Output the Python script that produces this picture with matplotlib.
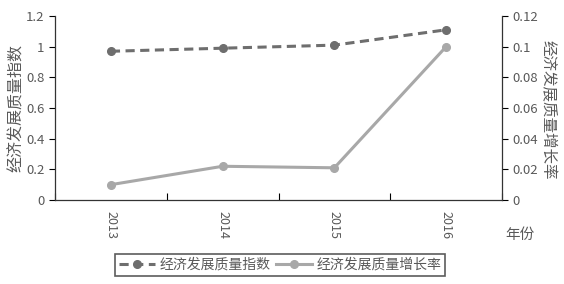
import numpy as np
import matplotlib.pyplot as plt

plt.rcParams['font.family'] = ['Noto Sans CJK SC', 'DejaVu Sans']

years = ['2013', '2014', '2015', '2016']
index_vals = [0.97, 0.99, 1.01, 1.11]
growth_vals = [0.010, 0.022, 0.021, 0.100]

txt = '#595959'
fig = plt.figure(figsize=(5.64, 2.84), dpi=100)
ax = fig.add_axes([55/564, 1-200/284, (502-55)/564, 184/284])
ax2 = ax.twinx()

x = np.arange(len(years))
l1, = ax.plot(x, index_vals, color='#6e6e6e', lw=2.2, ls=(0, (3, 1.8)), marker='o', ms=5.5,
              label='经济发展质量指数')
l2, = ax2.plot(x, growth_vals, color='#a8a8a8', lw=2.2, marker='o', ms=5.5,
               label='经济发展质量增长率')

ax.set_xlim(-0.5, 3.5)
ax.set_ylim(0, 1.2)
ax2.set_ylim(0, 0.12)
ax.set_yticks(np.arange(0, 1.21, 0.2))
ax.set_yticklabels(['0', '0.2', '0.4', '0.6', '0.8', '1', '1.2'])
ax2.set_yticks(np.arange(0, 0.121, 0.02))
ax2.set_yticklabels(['0', '0.02', '0.04', '0.06', '0.08', '0.1', '0.12'])

ax.set_xticks(x)
ax.set_xticklabels(years, rotation=-90)
ax.set_xticks(np.arange(-0.5, 3.6, 1), minor=True)
ax.tick_params(axis='x', which='major', length=0, pad=8, labelsize=9, labelcolor=txt)
ax.tick_params(axis='x', which='minor', length=5, direction='in', width=0.8)
ax.tick_params(axis='y', length=4, direction='out', labelsize=9.5, labelcolor=txt, width=0.8)
ax2.tick_params(axis='y', length=4, direction='out', labelsize=9.5, labelcolor=txt, width=0.8)

for a in (ax, ax2):
    a.spines['top'].set_visible(False)
    for s in a.spines.values():
        s.set_linewidth(0.9)
        s.set_color('#333333')
ax.spines['right'].set_visible(False)
ax2.spines['left'].set_visible(False)
ax2.spines['bottom'].set_visible(False)

ax.set_ylabel('经济发展质量指数', color=txt, fontsize=11.5, va='center')
ax.yaxis.set_label_coords(-0.087, 0.5)
ax2.set_ylabel('经济发展质量增长率', color=txt, fontsize=11.2, rotation=-90, va='center')
ax2.yaxis.set_label_coords(1.103, 0.49)

fig.text(520/564, 1-235/284, '年份', color=txt, fontsize=10.5, ha='center', va='center')

leg = fig.legend(handles=[l1, l2], loc='center', bbox_to_anchor=(280/564, 1-265/284), ncol=2,
                 frameon=True, fancybox=False, edgecolor='#333333', fontsize=10,
                 handlelength=2.6, columnspacing=0.4, handletextpad=0.3, borderpad=0.3)
leg.get_frame().set_linewidth(1.2)
for t in leg.get_texts():
    t.set_color(txt)

fig.savefig('out.png', dpi=100)
